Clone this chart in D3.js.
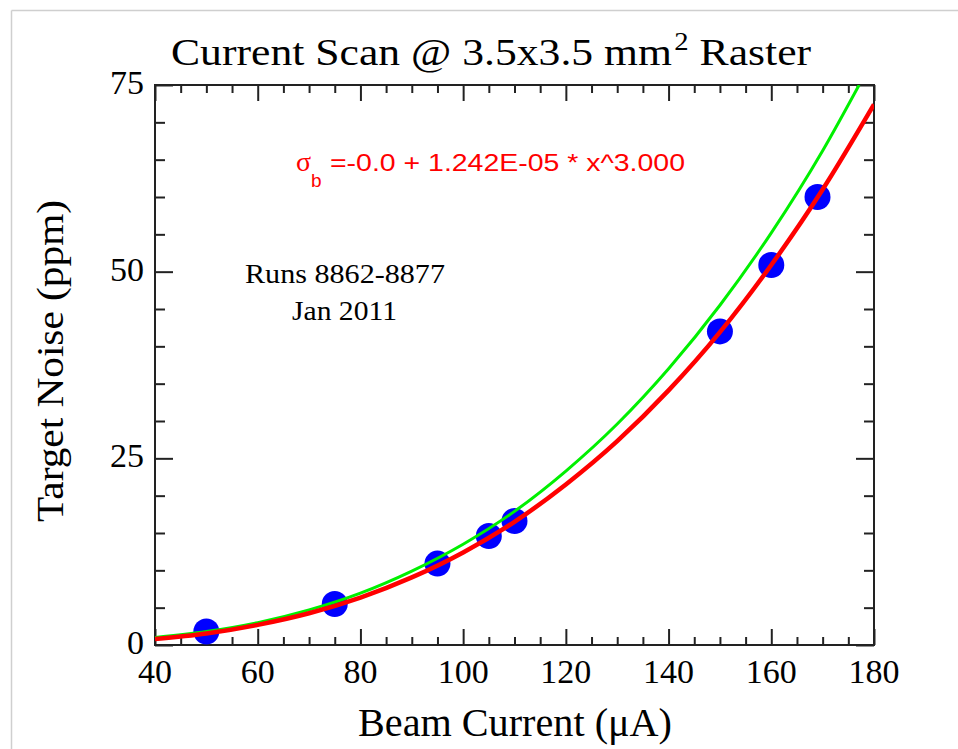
<!DOCTYPE html>
<html>
<head>
<meta charset="utf-8">
<script src="https://cdn.jsdelivr.net/npm/d3@7"></script>
<style>
  html, body { margin: 0; padding: 0; background: #fff; }
  svg { display: block; }
  text { font-family: "Liberation Serif", "Times New Roman", serif; fill: #000; }
</style>
</head>
<body>
<svg id="chart"></svg>
<script>
// Current scan — target noise vs beam current, cubic fit

// measured points
const beamCurrent = [50, 75, 95, 105, 110, 150, 160, 169];
const targetNoise = [1.8, 5.5, 10.9, 14.6, 16.6, 42.0, 50.9, 60.0];

// red fit curve (sigma_b = 1.242E-05 * x^3)
const fitX = [40, 50, 60, 70, 80, 90, 100, 110, 120, 130, 140, 150, 160, 170, 180];
const fitY = [0.8, 1.55, 2.7, 4.25, 6.35, 9.05, 12.4, 16.5, 21.5, 27.3, 34.1, 41.9, 50.9, 61.0, 72.4];

// green curve
const greenX = [40, 50, 60, 70, 80, 90, 100, 110, 120, 130, 140, 150, 160, 170, 177.1];
const greenY = [1.0, 1.8, 3.0, 4.7, 6.95, 9.9, 13.5, 17.9, 23.3, 29.6, 37.0, 45.5, 55.2, 66.2, 75.0];

const xTicks = [40, 60, 80, 100, 120, 140, 160, 180];
const yTicks = [0, 25, 50, 75];

const W = 958, H = 749;
const M = { left: 155, right: 874, top: 85, bottom: 645 };

const svg = d3.select('#chart').attr('width', W).attr('height', H);

// screenshot frame lines
svg.append('line').attr('x1', 11.5).attr('x2', W).attr('y1', 10.5).attr('y2', 10.5)
    .attr('stroke', '#cfcfcf').attr('stroke-width', 1.5);
svg.append('line').attr('x1', 11.5).attr('x2', 11.5).attr('y1', 10.5).attr('y2', H)
    .attr('stroke', '#cfcfcf').attr('stroke-width', 1.5);

const x = d3.scaleLinear().domain([40, 180]).range([M.left, M.right]);
const y = d3.scaleLinear().domain([0, 75]).range([M.bottom, M.top]);

svg.append('defs').append('clipPath').attr('id', 'plot-clip')
    .append('rect').attr('x', M.left).attr('y', M.top)
    .attr('width', M.right - M.left).attr('height', M.bottom - M.top);

// ── axes, ticks pointing inward on all four sides ───────────────────────────
const minorX = d3.range(40, 181, 5).filter(v => v % 20 !== 0);
const minorY = d3.range(0, 76, 5).filter(v => v % 25 !== 0);

function tickAxis(axisFn, scale, ticks, len, pos) {
    const g = svg.append('g').attr('transform', pos)
        .call(axisFn(scale).tickValues(ticks).tickSize(-len).tickFormat(''));
    g.select('.domain').remove();
    g.selectAll('line').attr('stroke', '#222').attr('stroke-width', 2);
    return g;
}
tickAxis(d3.axisBottom, x, xTicks, 16, `translate(0,${M.bottom})`);
tickAxis(d3.axisBottom, x, minorX, 8, `translate(0,${M.bottom})`);
tickAxis(d3.axisTop, x, xTicks, 16, `translate(0,${M.top})`);
tickAxis(d3.axisTop, x, minorX, 8, `translate(0,${M.top})`);
tickAxis(d3.axisLeft, y, yTicks, 18, `translate(${M.left},0)`);
tickAxis(d3.axisLeft, y, minorY, 10, `translate(${M.left},0)`);
tickAxis(d3.axisRight, y, yTicks, 18, `translate(${M.right},0)`);
tickAxis(d3.axisRight, y, minorY, 10, `translate(${M.right},0)`);

svg.append('rect')
    .attr('x', M.left).attr('y', M.top)
    .attr('width', M.right - M.left).attr('height', M.bottom - M.top)
    .attr('fill', 'none').attr('stroke', '#222').attr('stroke-width', 2);

// tick labels
svg.append('g').selectAll('text').data(xTicks).join('text')
    .attr('x', d => x(d)).attr('y', 683)
    .attr('text-anchor', 'middle').attr('font-size', '34px')
    .text(d => d);
svg.append('g').selectAll('text').data(yTicks).join('text')
    .attr('x', M.left - 11).attr('y', d => y(d) + 9)
    .attr('text-anchor', 'end').attr('font-size', '34px')
    .text(d => d);

// ── points, then curves drawn over them ─────────────────────────────────────
const plotG = svg.append('g').attr('clip-path', 'url(#plot-clip)');
const line = d3.line().x(d => x(d[0])).y(d => y(d[1])).curve(d3.curveMonotoneX);

plotG.selectAll('circle').data(beamCurrent.map((v, i) => [v, targetNoise[i]])).join('circle')
    .attr('cx', d => x(d[0])).attr('cy', d => y(d[1])).attr('r', 13)
    .attr('fill', '#0000ff');

plotG.append('path')
    .datum(greenX.map((v, i) => [v, greenY[i]]))
    .attr('d', line).attr('fill', 'none')
    .attr('stroke', '#00f000').attr('stroke-width', 3);

plotG.append('path')
    .datum(fitX.map((v, i) => [v, fitY[i]]))
    .attr('d', line).attr('fill', 'none')
    .attr('stroke', '#ff0000').attr('stroke-width', 4.5);

// ── text ────────────────────────────────────────────────────────────────────
// title: natural Times proportions, stretched to the reference width
const titleG = svg.append('g');
const title = titleG.append('text').attr('x', 0).attr('y', 65).attr('font-size', '38px');
title.append('tspan').text('Current Scan @ 3.5x3.5 mm');
title.append('tspan').attr('font-size', '25px').attr('dy', -15).attr('dx', 2).text('2');
title.append('tspan').attr('dy', 15).text('\u00a0Raster');
const tw = title.node().getComputedTextLength();
titleG.attr('transform', `translate(171,0) scale(${638 / tw},1)`);

svg.append('text').attr('x', 358).attr('y', 736)
    .attr('font-size', '39px').attr('textLength', 314).attr('lengthAdjust', 'spacingAndGlyphs')
    .text('Beam Current (\u03bcA)');

svg.append('text')
    .attr('transform', 'translate(63,361) rotate(-90)')
    .attr('text-anchor', 'middle').attr('font-size', '38px')
    .attr('textLength', 322).attr('lengthAdjust', 'spacingAndGlyphs')
    .text('Target Noise (ppm)');

svg.append('text').attr('x', 245).attr('y', 283)
    .attr('font-size', '27px').attr('textLength', 200).attr('lengthAdjust', 'spacingAndGlyphs')
    .text('Runs 8862-8877');
svg.append('text').attr('x', 292).attr('y', 320)
    .attr('font-size', '27px').attr('textLength', 105).attr('lengthAdjust', 'spacingAndGlyphs')
    .text('Jan 2011');

// fit equation (red): sigma with subscript b in one text element
const sig = svg.append('text').attr('x', 296).attr('y', 171)
    .attr('font-size', '28px').style('fill', '#ff0000');
sig.append('tspan').text('\u03c3');
sig.append('tspan').attr('dx', 0).attr('dy', 16).attr('font-size', '19px')
    .style('font-family', '"Liberation Sans", Arial, sans-serif').text('b');
svg.append('text').attr('x', 330).attr('y', 171)
    .attr('font-size', '23px').style('fill', '#ff0000')
    .style('font-family', '"Liberation Sans", Arial, sans-serif')
    .attr('textLength', 355).attr('lengthAdjust', 'spacingAndGlyphs')
    .text('=-0.0 + 1.242E-05 * x^3.000');
</script>
</body>
</html>
